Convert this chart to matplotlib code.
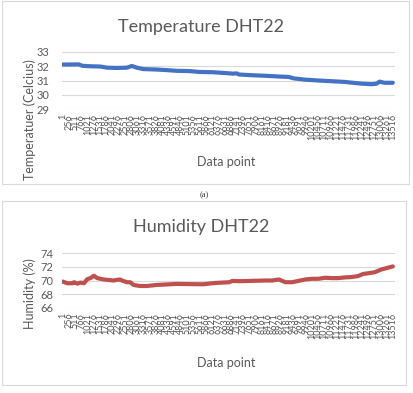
"""DHT22 temperature and humidity logs, two stacked Excel-style line charts."""

import matplotlib

matplotlib.use("Agg")
import matplotlib.pyplot as plt  # noqa: E402
from matplotlib.patches import Rectangle  # noqa: E402

# data points (index) and readings
temp_idx = [1, 204, 677, 812, 1150, 1555, 1826, 2231, 2637, 2839, 3042, 3312,
            3853, 4258, 4664, 5204, 5610, 6150, 6691, 6961, 7123, 7231, 7772,
            8312, 8853, 9258, 9461, 9934, 10475, 11015, 11556, 11826, 12232,
            12637, 12840, 12975, 13178, 13516]
temp_val = [32.12, 32.12, 32.13, 32.03, 32.0, 31.98, 31.9, 31.88, 31.9, 32.02,
            31.9, 31.8, 31.77, 31.73, 31.68, 31.66, 31.6, 31.58, 31.52, 31.48,
            31.5, 31.42, 31.37, 31.33, 31.28, 31.25, 31.15, 31.06, 31.0, 30.95,
            30.9, 30.85, 30.78, 30.74, 30.77, 30.92, 30.84, 30.84]

hum_idx = [1, 204, 406, 474, 609, 744, 880, 1015, 1150, 1285, 1420, 1555,
           1691, 2096, 2231, 2366, 2434, 2637, 2772, 2907, 3177, 3447, 3853,
           4664, 5745, 6015, 6285, 6826, 6961, 7231, 8312, 8582, 8853, 9123,
           9393, 9664, 9934, 10204, 10475, 10745, 11015, 11286, 11556, 11826,
           12096, 12299, 12502, 12772, 13043, 13516]
hum_val = [69.85, 69.6, 69.6, 69.75, 69.55, 69.7, 69.6, 70.2, 70.35, 70.7,
           70.35, 70.25, 70.15, 70.0, 70.1, 70.15, 70.0, 69.75, 69.75, 69.35,
           69.2, 69.2, 69.35, 69.5, 69.45, 69.55, 69.65, 69.75, 69.95, 69.9,
           70.0, 70.0, 70.15, 69.75, 69.75, 69.95, 70.15, 70.25, 70.25, 70.4,
           70.35, 70.35, 70.45, 70.5, 70.65, 70.95, 71.05, 71.2, 71.6, 72.05]

tick_idx = list(range(1, 13517, 255))
temp_ticks = [29, 30, 31, 32, 33]
hum_ticks = [66, 68, 70, 72, 74]

FONT = "Lato"
GREY = "#595959"
GRID = "#d9d9d9"

plt.rcParams["font.family"] = [FONT, "DejaVu Sans"]

fig = plt.figure(figsize=(4.13, 3.93), dpi=100)

# chart frames
fig.patches.append(Rectangle((0.005, 0.532), 0.985, 0.466, transform=fig.transFigure,
                             fill=False, edgecolor=GRID, linewidth=0.8))
fig.patches.append(Rectangle((0.005, 0.020), 0.978, 0.468, transform=fig.transFigure,
                             fill=False, edgecolor=GRID, linewidth=0.8))


def style_axes(ax, yticks, ypad):
    for s in ax.spines.values():
        s.set_visible(False)
    ax.set_xlim(-20, 13600)
    ax.set_ylim(yticks[0], yticks[-1])
    ax.set_yticks(yticks)
    ax.grid(axis="y", color=GRID, linewidth=0.8)
    ax.set_axisbelow(True)
    ax.set_xticks(tick_idx)
    ax.set_xticklabels([str(t) for t in tick_idx], rotation=90, fontsize=6.5, color=GREY)
    ax.tick_params(axis="x", length=0, pad=3.5)
    ax.tick_params(axis="y", length=0, pad=ypad, labelsize=8, labelcolor=GREY)


ax1 = fig.add_axes([0.150, 0.7226, 0.806, 0.1451])
ax1.plot(temp_idx, temp_val, color="#4472C4", linewidth=3, solid_capstyle="round")
style_axes(ax1, temp_ticks, 9)

ax2 = fig.add_axes([0.150, 0.2163, 0.806, 0.1399])
ax2.plot(hum_idx, hum_val, color="#C0504D", linewidth=3, solid_capstyle="round")
style_axes(ax2, hum_ticks, 6)

fig.text(0.486, 0.931, "Temperature DHT22", ha="center", va="center", fontsize=13, color=GREY)
fig.text(0.547, 0.589, "Data point", ha="center", va="center", fontsize=9, color=GREY)
fig.text(0.073, 0.697, "Temperatuer (Celcius)", ha="center", va="center", rotation=90,
         fontsize=9, color=GREY)

fig.text(0.486, 0.423, "Humidity DHT22", ha="center", va="center", fontsize=13, color=GREY)
fig.text(0.547, 0.077, "Data point", ha="center", va="center", fontsize=9, color=GREY)
fig.text(0.073, 0.254, "Humidity (%)", ha="center", va="center", rotation=90,
         fontsize=9, color=GREY)

fig.text(0.494, 0.5025, "(a)", ha="center", va="center", fontsize=6,
         family="Liberation Serif", color="#333333")

fig.savefig("out.png", dpi=100)
plt.close(fig)
